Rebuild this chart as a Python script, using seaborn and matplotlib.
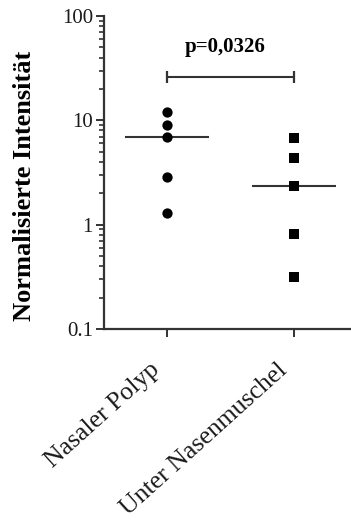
import numpy as np
import pandas as pd
import matplotlib
matplotlib.use("Agg")
import matplotlib.pyplot as plt
import matplotlib.transforms as mtransforms
import seaborn as sns
from matplotlib.ticker import FixedLocator, FixedFormatter, LogLocator, NullFormatter

# Data
groups = ["Nasaler Polyp", "Unter Nasenmuschel"]
polyp = [12.1, 8.95, 6.98, 2.89, 1.29]
muschel = [6.7, 4.32, 2.33, 0.81, 0.315]
markers = ["o", "s"]
y_ticks = [0.1, 1, 10, 100]
y_tick_labels = ["0.1", "1", "10", "100"]
y_label = "Normalisierte Intensität"
p_label = "p=0,0326"
bracket_y = 26
p_y = 51

df = pd.DataFrame({
    "Gruppe": [groups[0]] * len(polyp) + [groups[1]] * len(muschel),
    "Intensitaet": polyp + muschel,
})

sns.set_style("ticks")
plt.rcParams["font.family"] = ["Liberation Serif", "DejaVu Serif"]
LINE = "#333333"

fig = plt.figure(figsize=(3.51, 5.2), dpi=100)
ax = fig.add_axes([0.2963, 0.3673, 0.7037, 0.6019])

# points, one call per group so each gets its own marker
for g, m in zip(groups, markers):
    sns.swarmplot(data=df[df["Gruppe"] == g], x="Gruppe", y="Intensitaet",
                  order=groups, marker=m, color="black", size=7.4,
                  log_scale=True, ax=ax)

# median lines
sns.boxplot(data=df, x="Gruppe", y="Intensitaet", order=groups, width=0.66,
            showbox=False, showcaps=False, showfliers=False,
            whiskerprops={"visible": False},
            medianprops={"color": LINE, "linewidth": 1.5},
            log_scale=True, ax=ax)

# significance bracket
ax.plot([0, 1], [bracket_y, bracket_y], color=LINE, lw=1.5,
        marker="|", markersize=8.5, markeredgewidth=1.6)
ax.text(0.46, p_y, p_label, ha="center", va="center",
        fontsize=15, fontweight="bold", color="black")

ax.set_yscale("log")
ax.set_ylim(0.1, 100)
ax.set_xlim(-0.492, 1.45)
ax.yaxis.set_major_locator(FixedLocator(y_ticks))
ax.yaxis.set_major_formatter(FixedFormatter(y_tick_labels))
ax.yaxis.set_minor_locator(LogLocator(base=10, subs=np.arange(2, 10)))
ax.yaxis.set_minor_formatter(NullFormatter())

ax.set_xlabel("")
ax.set_ylabel(y_label, fontsize=19, fontweight="bold", color="black")
ax.yaxis.set_label_coords(-0.275, 0.457)

sns.despine(ax=ax)
for side in ["left", "bottom"]:
    ax.spines[side].set_color(LINE)
    ax.spines[side].set_linewidth(1.6)
ax.tick_params(axis="both", which="major", length=6, width=1.4, color=LINE,
               direction="out", labelcolor="#1a1a1a")
ax.tick_params(axis="y", which="major", labelsize=15, pad=2)
ax.tick_params(axis="y", which="minor", length=3.5, width=1.2, color=LINE)
ax.tick_params(axis="x", which="major", pad=6)

ax.set_xticks([0, 1])
ax.set_xticklabels(groups, rotation=42, ha="right", va="top",
                   rotation_mode="anchor", fontsize=18.5)
# nudge the slanted labels down and left like the original
shift = mtransforms.ScaledTranslation(-0.17, -0.13, fig.dpi_scale_trans)
for lab in ax.get_xticklabels():
    lab.set_transform(lab.get_transform() + shift)

fig.savefig("out.png", dpi=100)
